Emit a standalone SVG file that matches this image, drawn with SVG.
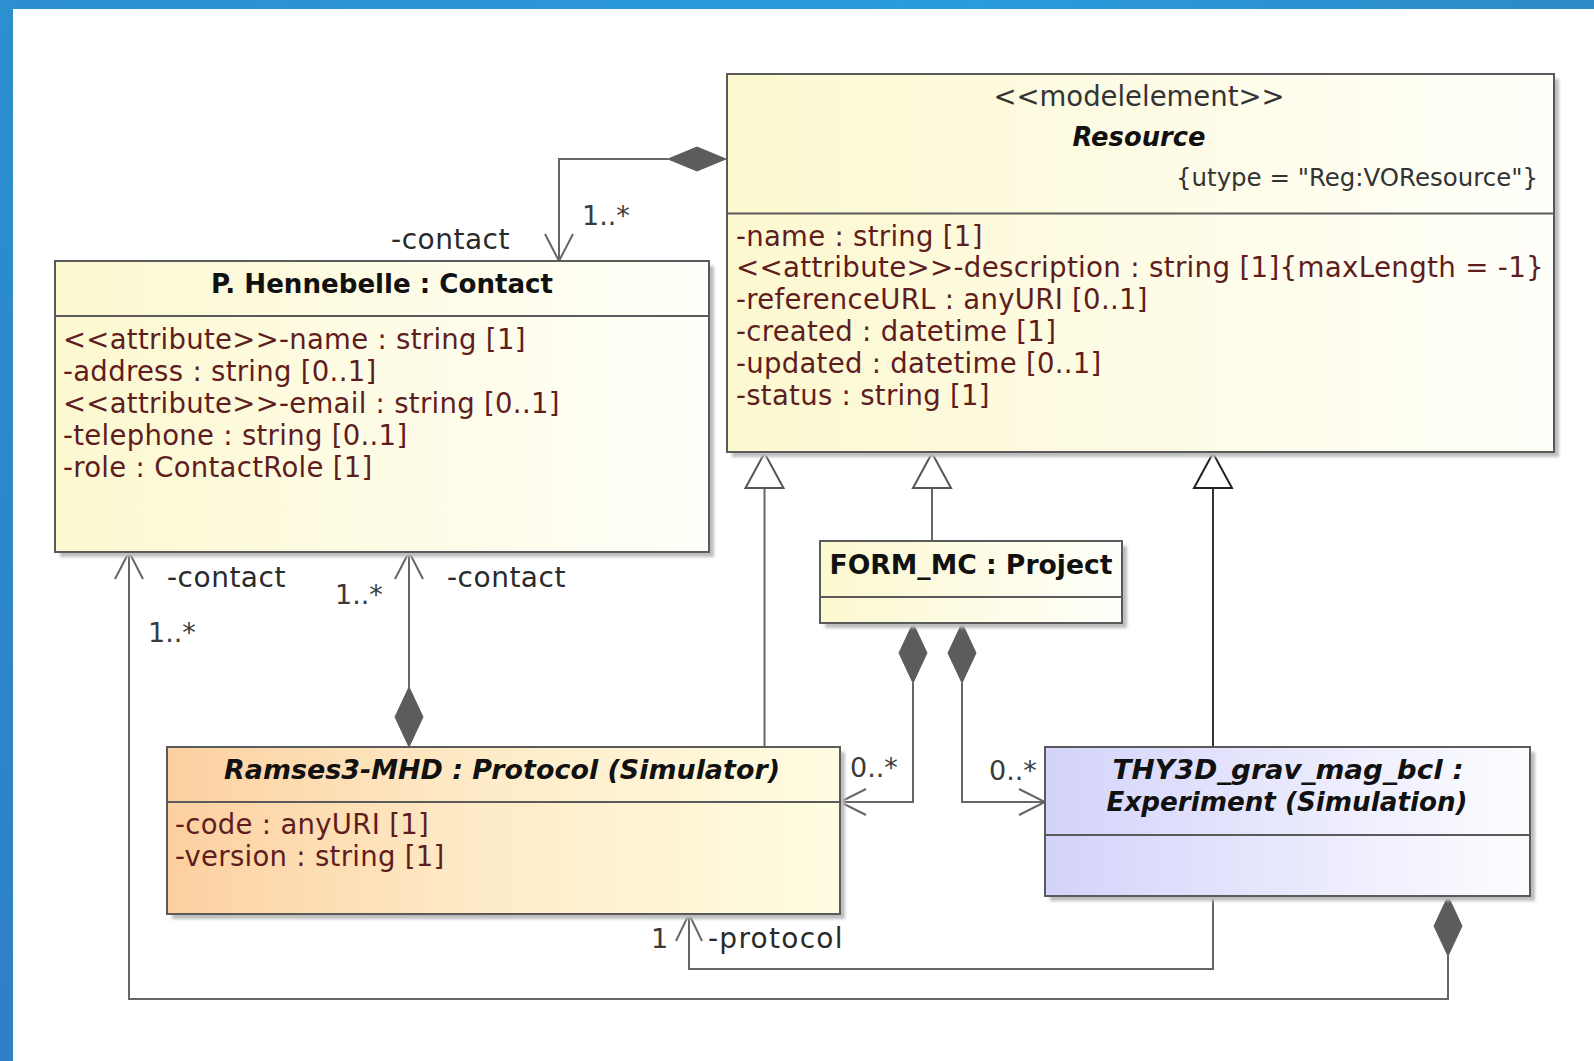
<svg xmlns="http://www.w3.org/2000/svg" width="1594" height="1061" viewBox="0 0 1594 1061">
<defs>
<linearGradient id="gTop" x1="0" y1="0" x2="1" y2="0"><stop offset="0" stop-color="#2b8ecf"/><stop offset="0.6" stop-color="#2a9cdd"/><stop offset="1" stop-color="#2d89c7"/></linearGradient>
<linearGradient id="gLeft" x1="0" y1="0" x2="0" y2="1"><stop offset="0" stop-color="#2b8fd0"/><stop offset="1" stop-color="#2f80c6"/></linearGradient>
<linearGradient id="gYel" x1="0" y1="0" x2="1" y2="0"><stop offset="0" stop-color="#fcf8d0"/><stop offset="1" stop-color="#fffffa"/></linearGradient>
<linearGradient id="gOra" x1="0" y1="0" x2="1" y2="0"><stop offset="0" stop-color="#fcd0a0"/><stop offset="0.45" stop-color="#feeac6"/><stop offset="1" stop-color="#fffde2"/></linearGradient>
<linearGradient id="gBlu" x1="0" y1="0" x2="1" y2="0"><stop offset="0" stop-color="#d3d3fb"/><stop offset="1" stop-color="#fdfdff"/></linearGradient>
<filter id="blur" x="-5%" y="-5%" width="110%" height="110%"><feGaussianBlur stdDeviation="1.5"/></filter>
</defs>
<style>
.box{stroke:#5a5a5a;stroke-width:2}
.shadow{fill:#bdbdbd;filter:url(#blur)}
.div{stroke:#5a5a5a;stroke-width:2}
.attr{font-family:"DejaVu Sans",Verdana,sans-serif;font-size:27.5px;letter-spacing:0.3px;fill:#5f1d1d}
.ster{font-family:"DejaVu Sans",Verdana,sans-serif;font-size:27.5px;fill:#333}
.tag{font-family:"DejaVu Sans",Verdana,sans-serif;font-size:25px;fill:#333}
.title{font-family:"DejaVu Sans",Verdana,sans-serif;font-size:27px;font-weight:bold;fill:#111}
.ital{font-style:italic}
.lbl{font-family:"DejaVu Sans",Verdana,sans-serif;font-size:28px;letter-spacing:0.5px;fill:#2a2a2a}
.mul{font-family:"DejaVu Sans",Verdana,sans-serif;font-size:27px;fill:#3a3a3a}
.ln{fill:none;stroke:#666;stroke-width:2}
.dia{fill:#5c5c5c;stroke:#5c5c5c;stroke-width:1}
.tri{fill:#fff;stroke:#555;stroke-width:2}
</style>
<rect x="0" y="0" width="1594" height="1061" fill="#fff"/>
<rect x="0" y="0" width="1594" height="9" fill="url(#gTop)"/>
<rect x="0" y="0" width="13" height="1061" fill="url(#gLeft)"/>

<g id="connectors">
<!-- Resource composition to Contact -->
<polyline class="ln" points="668,159 559,159 559,261"/>
<polygon class="dia" points="726,159 697,147 668,159 697,171"/>
<polyline class="ln" points="545,234 559,261 573,234"/>
<text class="lbl" x="510" y="249" text-anchor="end">-contact</text>
<text class="mul" x="582" y="225">1..*</text>
<!-- Ramses composition to Contact -->
<line class="ln" x1="409" y1="552" x2="409" y2="687"/>
<polygon class="dia" points="409,747 395,717 409,687 423,717"/>
<polyline class="ln" points="395,579 409,552 423,579"/>
<text class="lbl" x="447" y="587">-contact</text>
<text class="mul" x="335" y="604">1..*</text>
<!-- Experiment composition to Contact -->
<polyline class="ln" points="129,552 129,999 1448,999 1448,956"/>
<polygon class="dia" points="1448,896 1434,926 1448,956 1462,926"/>
<polyline class="ln" points="115,579 129,552 143,579"/>
<text class="lbl" x="167" y="587">-contact</text>
<text class="mul" x="148" y="642">1..*</text>
<!-- generalizations -->
<line class="ln" x1="764.5" y1="747" x2="764.5" y2="488"/>
<polygon class="tri" points="764.5,453 745.5,488 783.5,488"/>
<line class="ln" x1="932" y1="541" x2="932" y2="488"/>
<polygon class="tri" points="932,453 913,488 951,488"/>
<line class="ln" x1="1213" y1="747" x2="1213" y2="488" style="stroke:#333"/>
<polygon class="tri" points="1213,453 1194,488 1232,488" style="stroke:#222"/>
<!-- FORM_MC compositions -->
<polyline class="ln" points="913,683 913,802 840,802"/>
<polygon class="dia" points="913,623 899,653 913,683 927,653"/>
<polyline class="ln" points="866,789 840,802 866,815"/>
<text class="mul" x="850" y="777">0..*</text>
<polyline class="ln" points="962,683 962,802 1045,802"/>
<polygon class="dia" points="962,623 948,653 962,683 976,653"/>
<polyline class="ln" points="1019,789 1045,802 1019,815"/>
<text class="mul" x="989" y="780">0..*</text>
<!-- Experiment to Ramses protocol -->
<polyline class="ln" points="1213,896 1213,969 689,969 689,914"/>
<polyline class="ln" points="676,941 689,914 702,941"/>
<text class="mul" x="651" y="948">1</text>
<text class="lbl" x="708" y="948" textLength="135" lengthAdjust="spacing">-protocol</text>
</g>

<g id="resource">
<rect class="shadow" x="732" y="79" width="827" height="378"/>
<rect class="box" x="727" y="74" width="827" height="378" fill="url(#gYel)"/>
<line class="div" x1="727" y1="213.5" x2="1554" y2="213.5"/>
<text class="ster" x="1139" y="106" text-anchor="middle" textLength="291" lengthAdjust="spacing">&lt;&lt;modelelement&gt;&gt;</text>
<text class="title ital" x="1139" y="146" text-anchor="middle" textLength="133" lengthAdjust="spacingAndGlyphs">Resource</text>
<text class="tag" x="1538" y="186" text-anchor="end" textLength="362" lengthAdjust="spacingAndGlyphs">{utype = "Reg:VOResource"}</text>
<text class="attr" x="736" y="246">-name : string [1]</text>
<text class="attr" x="736" y="277" textLength="808" lengthAdjust="spacingAndGlyphs">&lt;&lt;attribute&gt;&gt;-description : string [1]{maxLength = -1}</text>
<text class="attr" x="736" y="309">-referenceURL : anyURI [0..1]</text>
<text class="attr" x="736" y="341">-created : datetime [1]</text>
<text class="attr" x="736" y="373">-updated : datetime [0..1]</text>
<text class="attr" x="736" y="405">-status : string [1]</text>
</g>

<g id="contact">
<rect class="shadow" x="60" y="266" width="654" height="291"/>
<rect class="box" x="55" y="261" width="654" height="291" fill="url(#gYel)"/>
<line class="div" x1="55" y1="316" x2="709" y2="316"/>
<text class="title" x="382" y="293" text-anchor="middle" textLength="342" lengthAdjust="spacingAndGlyphs">P. Hennebelle : Contact</text>
<text class="attr" x="63" y="349">&lt;&lt;attribute&gt;&gt;-name : string [1]</text>
<text class="attr" x="63" y="381">-address : string [0..1]</text>
<text class="attr" x="63" y="413">&lt;&lt;attribute&gt;&gt;-email : string [0..1]</text>
<text class="attr" x="63" y="445">-telephone : string [0..1]</text>
<text class="attr" x="63" y="477">-role : ContactRole [1]</text>
</g>

<g id="project">
<rect class="shadow" x="825" y="546" width="302" height="82"/>
<rect class="box" x="820" y="541" width="302" height="82" fill="url(#gYel)"/>
<line class="div" x1="820" y1="597" x2="1122" y2="597"/>
<text class="title" x="971" y="574" text-anchor="middle" textLength="283" lengthAdjust="spacingAndGlyphs">FORM_MC : Project</text>
</g>

<g id="protocol">
<rect class="shadow" x="172" y="752" width="673" height="167"/>
<rect class="box" x="167" y="747" width="673" height="167" fill="url(#gOra)"/>
<line class="div" x1="167" y1="802" x2="840" y2="802"/>
<text class="title ital" x="502" y="779" text-anchor="middle" textLength="556" lengthAdjust="spacingAndGlyphs">Ramses3-MHD : Protocol (Simulator)</text>
<text class="attr" x="175" y="834">-code : anyURI [1]</text>
<text class="attr" x="175" y="866">-version : string [1]</text>
</g>

<g id="experiment">
<rect class="shadow" x="1050" y="752" width="485" height="149"/>
<rect class="box" x="1045" y="747" width="485" height="149" fill="url(#gBlu)"/>
<line class="div" x1="1045" y1="835" x2="1530" y2="835"/>
<text class="title ital" x="1288" y="779" text-anchor="middle" textLength="351" lengthAdjust="spacingAndGlyphs">THY3D_grav_mag_bcl :</text>
<text class="title ital" x="1287" y="811" text-anchor="middle" textLength="361" lengthAdjust="spacingAndGlyphs">Experiment (Simulation)</text>
</g>
</svg>
